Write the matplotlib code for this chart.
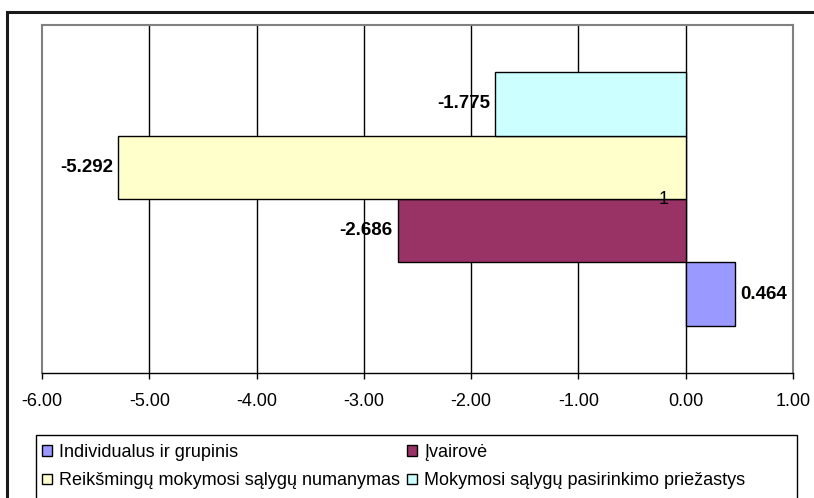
import matplotlib
matplotlib.use("Agg")
import matplotlib.pyplot as plt
from matplotlib.patches import Rectangle, Patch

plt.rcParams['font.family'] = ['Liberation Sans', 'DejaVu Sans']

series_names = ["Individualus ir grupinis", "Įvairovė",
                "Reikšmingų mokymosi sąlygų numanymas",
                "Mokymosi sąlygų pasirinkimo priežastys"]
values = [0.464, -2.686, -5.292, -1.775]
colors = ["#9999FF", "#993366", "#FFFFCC", "#CCFFFF"]
category_label = "1"
x_ticks = [-6, -5, -4, -3, -2, -1, 0, 1]

W, H = 814, 498
fig = plt.figure(figsize=(W / 100, H / 100), dpi=100)
ax = fig.add_axes([42 / W, 1 - 373 / H, (793 - 42) / W, (373 - 25) / H])

bar_h = 0.182
n = len(values)
for i, (v, c) in enumerate(zip(values, colors)):
    yc = (i - (n - 1) / 2) * bar_h
    ax.barh(yc, v, height=bar_h, color=c, edgecolor="black", linewidth=1.0, zorder=3)
    off = -5 if v < 0 else 5
    ax.annotate(f"{v:.3f}", xy=(v, yc), xytext=(off, 0), textcoords="offset pixels",
                ha="right" if v < 0 else "left", va="center", fontsize=13.5,
                fontweight="bold", zorder=5)

ax.annotate(category_label, xy=(0, 0), xytext=(-17, 0), textcoords="offset pixels",
            ha="right", va="center", fontsize=13, zorder=6)

ax.set_xlim(-6, 1)
ax.set_ylim(-0.5, 0.5)
ax.set_xticks(x_ticks)
ax.set_xticklabels([f"{t:.2f}" for t in x_ticks], fontsize=13)
ax.set_yticks([])
ax.tick_params(axis="x", direction="out", length=4.5, width=1, color="black", pad=10)
for t in x_ticks[1:-1]:
    ax.axvline(t, color="black", linewidth=1.0, zorder=1)
for s in ["left", "top", "right"]:
    ax.spines[s].set_color("#808080")
    ax.spines[s].set_linewidth(1.5)
ax.spines["bottom"].set_color("black")
ax.spines["bottom"].set_linewidth(1.0)

# outer chart border (left & top visible)
fig.patches.append(Rectangle((7 / W, -0.1), 1.2, (1 - 12 / H) + 0.1, transform=fig.transFigure,
                             fill=False, edgecolor="#1a1a1a", linewidth=2.2, clip_on=False))
# legend frame
fig.patches.append(Rectangle((36 / W, -0.1), (797 - 36) / W, (1 - 435 / H) + 0.1,
                             transform=fig.transFigure, fill=False, edgecolor="black",
                             linewidth=1.0, clip_on=False))

order = [0, 2, 1, 3]  # row-wise fill: row1 = series 0,1 ; row2 = series 2,3
handles = [Patch(facecolor=colors[i], edgecolor="black", linewidth=1.0) for i in order]
leg = fig.legend(handles, [series_names[i] for i in order], ncol=2, frameon=False,
                 loc="upper left", bbox_to_anchor=(38 / W, 1 - 440 / H),
                 fontsize=13, handlelength=0.55, handleheight=0.55, handletextpad=0.4,
                 columnspacing=0.4, labelspacing=0.65, borderpad=0.2, borderaxespad=0)

fig.savefig("out.png", dpi=100)
